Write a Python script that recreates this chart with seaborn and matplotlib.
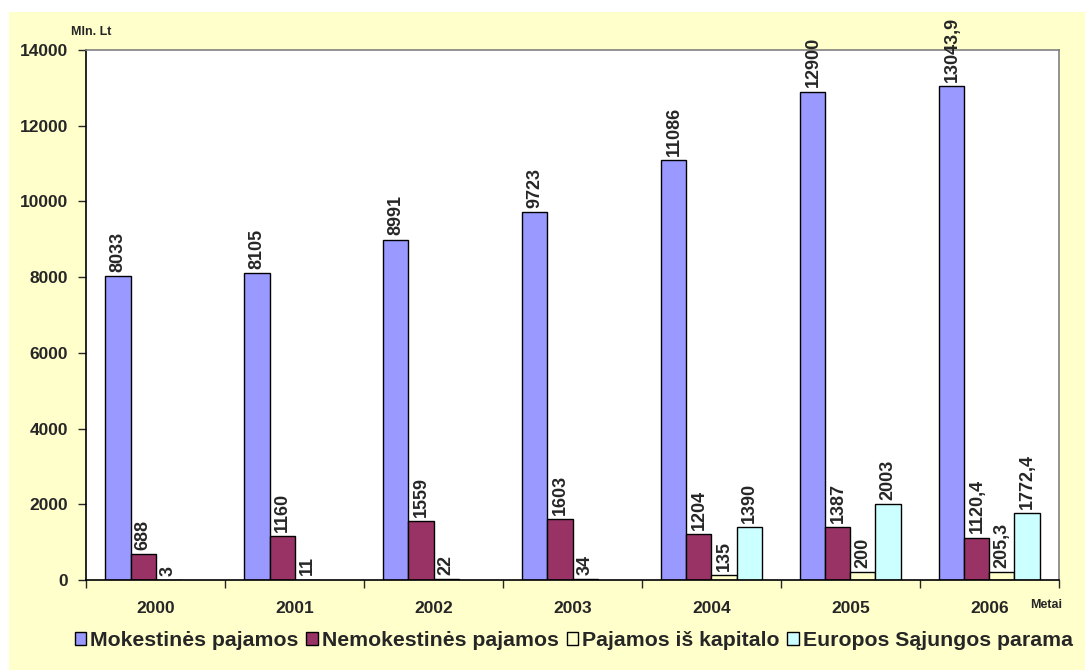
import pandas as pd
import seaborn as sns
import matplotlib.pyplot as plt
from matplotlib.patches import Rectangle

# Chart values
years = ['2000', '2001', '2002', '2003', '2004', '2005', '2006']
series = ['Mokestinės pajamos', 'Nemokestinės pajamos', 'Pajamos iš kapitalo', 'Europos Sąjungos parama']
mokestines = [8033, 8105, 8991, 9723, 11086, 12900, 13043.9]
nemokestines = [688, 1160, 1559, 1603, 1204, 1387, 1120.4]
kapitalo = [3, 11, 22, 34, 135, 200, 205.3]
es_parama = [None, None, None, None, 1390, 2003, 1772.4]
colors = ['#9999FF', '#993366', '#FFFFCC', '#CCFFFF']

def fmt(v):
    if float(v).is_integer():
        return str(int(v))
    return f'{v:.1f}'.replace('.', ',')

rows = []
for name, vals in zip(series, [mokestines, nemokestines, kapitalo, es_parama]):
    for y, v in zip(years, vals):
        rows.append({'Metai': y, 'serija': name, 'value': v})
df = pd.DataFrame(rows)

sns.set_style('white')
plt.rcParams['font.family'] = ['Liberation Sans', 'DejaVu Sans']
plt.rcParams['font.weight'] = 'bold'

fig = plt.figure(figsize=(10.85, 6.71), dpi=100)
fig.patches.append(Rectangle((0.0083, 0.002), 0.9917, 0.98, transform=fig.transFigure,
                             facecolor='#FFFFCC', edgecolor='none', zorder=-1))
ax = fig.add_axes([0.0793, 0.1356, 0.8967, 0.79])
ax.set_facecolor('white')

sns.barplot(data=df, x='Metai', y='value', hue='serija', hue_order=series,
            palette=colors, saturation=1, width=0.72, edgecolor='black', linewidth=1,
            errorbar=None, legend=False, ax=ax)

# value labels above each bar (missing values have no bar)
for cont, vals in zip(ax.containers, [mokestines, nemokestines, kapitalo, es_parama]):
    bars = [b for b in cont if b is not None]
    present = [v for v in vals if v is not None]
    for bar, v in zip(bars, present):
        ax.annotate(fmt(v), (bar.get_x() + bar.get_width() / 2, bar.get_height()),
                    xytext=(0, 3), textcoords='offset points', rotation=90,
                    ha='center', va='bottom', fontsize=13, fontweight='bold',
                    annotation_clip=False)

ax.set_ylim(0, 14000)
ax.set_xlim(-0.5, 6.5)
ax.set_yticks(range(0, 14001, 2000))
ax.tick_params(axis='y', labelsize=12.5, length=6, width=1, direction='out', left=True, pad=7)
ax.set_xticks([i + 0.5 for i in range(-1, 7)])
ax.set_xticklabels([])
ax.set_xticks(range(7), minor=True)
ax.set_xticklabels(years, minor=True, fontsize=12.5, fontweight='bold')
ax.tick_params(axis='x', which='major', length=6, width=1, direction='out', bottom=True)
ax.tick_params(axis='x', which='minor', length=0, pad=15)
ax.set_xlabel('')
ax.set_ylabel('')
for lab in ax.get_yticklabels():
    lab.set_fontweight('bold')

for side in ['left', 'bottom']:
    ax.spines[side].set_color('black')
    ax.spines[side].set_linewidth(1.2)
for side in ['top', 'right']:
    ax.spines[side].set_color('#808080')
    ax.spines[side].set_linewidth(1.2)

fig.text(0.084, 0.952, 'Mln. Lt', fontsize=9, fontweight='bold', ha='center', va='center')
fig.text(0.979, 0.0985, 'Metai', fontsize=9, fontweight='bold', ha='right', va='center')

handles = [Rectangle((0, 0), 1, 1, facecolor=c, edgecolor='black', linewidth=1) for c in colors]
fig.legend(handles, series, loc='center', bbox_to_anchor=(0.529, 0.046), ncol=4,
           frameon=False, handlelength=0.55, handleheight=0.55,
           handletextpad=0.2, columnspacing=0.35, prop={'weight': 'bold', 'size': 15.3})

fig.savefig('out.png', dpi=100)
